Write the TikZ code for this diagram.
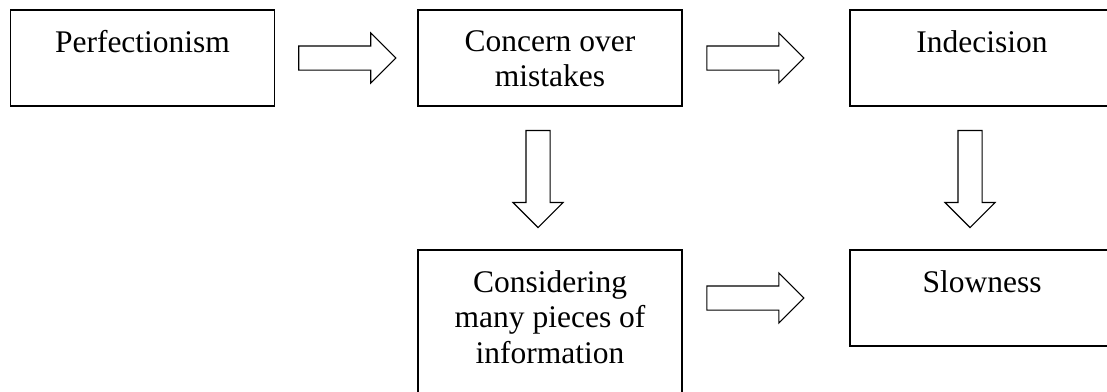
\documentclass[tikz,border=0pt]{standalone}
\usepackage{fontspec}
\setmainfont{Liberation Serif}
\usepackage{tikz}
\usetikzlibrary{shapes.arrows,calc}

\begin{document}
\begin{tikzpicture}[x=1pt,y=1pt,
  font=\fontsize{31.5}{35.5}\selectfont,
  box/.style={draw,line width=1.8pt,minimum width=264pt,minimum height=96pt,inner sep=0pt},
  lbl/.style={anchor=north,align=center,inner xsep=0pt,inner ysep=21pt},
  blk/.style={draw,line width=1.1pt,single arrow,minimum height=97pt,
    single arrow head extend=13pt,inner sep=11.5pt,anchor=center},
  harrow/.style={blk,xshift=-5pt},
  varrow/.style={blk,shape border rotate=270,yshift=5pt}]
\useasboundingbox (0,0) rectangle (1107,-391);
\clip (0,0) rectangle (1107,-391);
% top row
\node[box,label={[lbl]north:Perfectionism}] (perf) at (142.5,-58) {};
\node[box,label={[lbl]north:Concern over\\mistakes}] (concern) at (550,-58) {};
\node[box,label={[lbl]north:Indecision}] (indec) at (982,-58) {};
% bottom row
\node[box,minimum height=150pt,label={[lbl]north:Considering\\many pieces of\\information}] (consid) at (550,-325) {};
\node[box,label={[lbl]north:Slowness}] (slow) at (982,-298) {};
% block arrows
\path (perf) -- node[harrow]{} (concern);
\path (concern) -- node[pos=.43,harrow]{} (indec);
\path (consid.east |- slow) -- node[pos=.43,harrow]{} (slow.west);
\path ([xshift=-12pt]concern.south) -- node[varrow]{} ([xshift=-12pt]consid.north);
\path ([xshift=-12pt]indec.south) -- node[varrow]{} ([xshift=-12pt]slow.north);
\end{tikzpicture}
\end{document}
